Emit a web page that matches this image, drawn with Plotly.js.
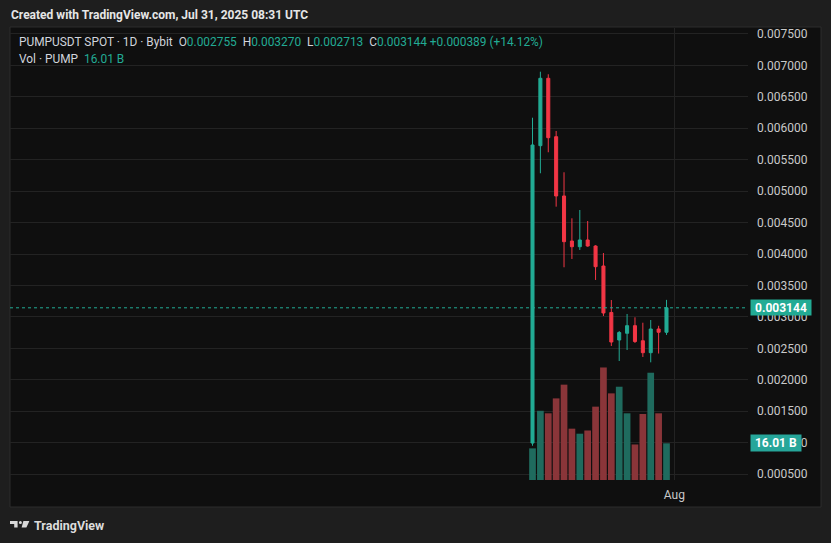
<!DOCTYPE html>
<html>
<head>
<meta charset="utf-8">
<script src="https://cdn.plot.ly/plotly-3.0.1.min.js"></script>
<style>
html,body{margin:0;padding:0;background:#1e1e1e;}
#chart{width:831px;height:543px;}
</style>
</head>
<body>
<div id="chart"></div>
<script>
// ---- data ----
const dates = ['2025-07-14','2025-07-15','2025-07-16','2025-07-17','2025-07-18','2025-07-19',
  '2025-07-20','2025-07-21','2025-07-22','2025-07-23','2025-07-24','2025-07-25',
  '2025-07-26','2025-07-27','2025-07-28','2025-07-29','2025-07-30','2025-07-31'];
const openP  = [0.000993,0.005723,0.006795,0.005866,0.004923,0.004207,0.004116,0.004223,0.004127,0.003809,0.003070,0.002632,0.002739,0.002860,0.002620,0.002430,0.002807,0.002755];
const highP  = [0.006168,0.006900,0.006859,0.005957,0.005300,0.004568,0.004700,0.004525,0.004140,0.004016,0.003268,0.002775,0.003046,0.002993,0.002907,0.002950,0.002858,0.003270];
const lowP   = [0.000950,0.005284,0.005618,0.004753,0.003789,0.003921,0.004064,0.004116,0.003587,0.003014,0.002537,0.002298,0.002473,0.002584,0.002362,0.002277,0.002417,0.002713];
const closeP = [0.005734,0.006795,0.005850,0.004923,0.004196,0.004116,0.004223,0.004127,0.003798,0.003062,0.002600,0.002751,0.002860,0.002608,0.002430,0.002807,0.002755,0.003144];
const volumeB = [13.8,30.2,29.1,35.6,41.6,22.4,20.2,21.6,32.0,49.1,37.8,40.7,29.1,15.5,28.8,46.8,29.1,16.01];
const priceTicks = [0.0005,0.001,0.0015,0.002,0.0025,0.003,0.0035,0.004,0.0045,0.005,0.0055,0.006,0.0065,0.007,0.0075];
const timeTickVals = ['2025-08-01'];
const timeTickText = ['Aug'];

// ---- styling ----
const UP = '#22ab94', DOWN = '#f23645';
const UPVOL = '#1f6b5e', DOWNVOL = '#8a3539';
const FONT = 'Roboto, "Noto Sans", sans-serif';
const W = 831, H = 543, ML = 10, MR = 83, MT = 28, MB = 63;
const PW = W - ML - MR, PH = H - MT - MB;
const fx = px => (px - ML) / PW;
const fy = py => (H - MB - py) / PH;

const volColors = closeP.map((c, i) => c >= openP[i] ? UPVOL : DOWNVOL);
const lastClose = closeP[closeP.length - 1];
const lastOpen = openP[openP.length - 1];
const prevClose = closeP[closeP.length - 2];
const lastVol = volumeB[volumeB.length - 1];
const chg = lastClose - prevClose;
const chgPct = chg / prevClose * 100;

const traces = [
  {
    type: 'bar', x: dates, y: volumeB, xaxis: 'x', yaxis: 'y',
    marker: {color: volColors, line: {width: 0}}, hoverinfo: 'skip'
  },
  {
    type: 'candlestick', x: dates, open: openP, high: highP, low: lowP, close: closeP,
    xaxis: 'x', yaxis: 'y2', hoverinfo: 'skip',
    increasing: {line: {color: UP, width: 1}, fillcolor: UP},
    decreasing: {line: {color: DOWN, width: 1}, fillcolor: DOWN},
    whiskerwidth: 0
  }
];

const G = '#c9c9c9';
const hdr = 'PUMPUSDT SPOT · 1D · Bybit  ' +
  'O<span style="color:' + UP + '">' + lastOpen.toFixed(6) + '</span>  ' +
  'H<span style="color:' + UP + '">' + highP[highP.length-1].toFixed(6) + '</span>  ' +
  'L<span style="color:' + UP + '">' + lowP[lowP.length-1].toFixed(6) + '</span>  ' +
  'C<span style="color:' + UP + '">' + lastClose.toFixed(6) + ' +' + chg.toFixed(6) + ' (+' + chgPct.toFixed(2) + '%)</span>';
const hdr2 = 'Vol · PUMP  <span style="color:' + UP + '">' + lastVol.toFixed(2) + ' B</span>';

function logoPath(pts){
  return 'M' + pts.map(p => fx(p[0]) + ',' + fy(p[1])).join(' L') + ' Z';
}

const layout = {
  width: W, height: H,
  margin: {l: ML, r: MR, t: MT, b: MB, pad: 0},
  paper_bgcolor: '#1e1e1e',
  plot_bgcolor: 'rgba(0,0,0,0)',
  showlegend: false,
  dragmode: false,
  boxgap: 0.45,
  bargap: 0.15,
  font: {family: FONT, color: G, size: 12},
  xaxis: {
    type: 'date', range: ['2025-05-08 17:00', '2025-08-10 08:10'],
    rangeslider: {visible: false},
    tickmode: 'array', tickvals: timeTickVals, ticktext: timeTickText,
    showgrid: true, gridcolor: '#232323', gridwidth: 1,
    ticks: '', showline: false, zeroline: false,
    tickfont: {family: FONT, size: 12, color: G},
    ticklabelstandoff: 6, fixedrange: true
  },
  yaxis: {
    range: [0, 197.2], visible: false, showgrid: false, zeroline: false, fixedrange: true
  },
  yaxis2: {
    overlaying: 'y', side: 'right', anchor: 'x',
    range: [0.000405, 0.007595],
    tickmode: 'array', tickvals: priceTicks,
    ticktext: priceTicks.map(v => v.toFixed(6)),
    showgrid: true, gridcolor: '#232323', gridwidth: 1,
    ticks: '', showline: false, zeroline: false,
    tickfont: {family: FONT, size: 12, color: G},
    ticklabelstandoff: 8, fixedrange: true
  },
  shapes: [
    // chart panel background
    {type: 'rect', xref: 'paper', yref: 'paper', x0: fx(10), x1: fx(821), y0: fy(507), y1: fy(27),
     fillcolor: '#0f0f0f', line: {color: '#2c2c2c', width: 1}, layer: 'below'},
    // last price dotted line
    {type: 'line', xref: 'paper', yref: 'y2', x0: 0, x1: 1, y0: lastClose, y1: lastClose,
     line: {color: UP, width: 1, dash: 'dot'}, layer: 'above'},
    // TradingView logo
    {type: 'path', xref: 'paper', yref: 'paper', path: logoPath([[10,521],[17.6,521],[17.6,527.6],[14.2,527.6],[14.2,524],[10,524]]),
     fillcolor: '#d8d8d8', line: {width: 0}},
    {type: 'circle', xref: 'paper', yref: 'paper', x0: fx(18.9), x1: fx(21.9), y0: fy(524), y1: fy(521),
     fillcolor: '#d8d8d8', line: {width: 0}},
    {type: 'path', xref: 'paper', yref: 'paper', path: logoPath([[23.4,521],[29.4,521],[26.4,527.6],[21.6,527.6]]),
     fillcolor: '#d8d8d8', line: {width: 0}}
  ],
  annotations: [
    {xref: 'paper', yref: 'paper', x: fx(9), y: fy(15), xanchor: 'left', yanchor: 'middle',
     text: '<b>Created with TradingView.com, Jul 31, 2025 08:31 UTC</b>', showarrow: false,
     font: {family: FONT, size: 12, color: '#e6e6e6'}},
    {xref: 'paper', yref: 'paper', x: fx(17), y: fy(42), xanchor: 'left', yanchor: 'middle',
     text: hdr, showarrow: false, font: {family: FONT, size: 11.9, color: '#d1d4dc'}},
    {xref: 'paper', yref: 'paper', x: fx(17), y: fy(59), xanchor: 'left', yanchor: 'middle',
     text: hdr2, showarrow: false, font: {family: FONT, size: 11.9, color: '#d1d4dc'}},
    {xref: 'paper', yref: 'y2', x: 1, xshift: 2, y: lastClose, xanchor: 'left', yanchor: 'middle',
     text: '<b>' + lastClose.toFixed(6) + '</b>', showarrow: false, bgcolor: UP,
     width: 60, height: 15, borderpad: 0, font: {family: FONT, size: 12, color: '#ffffff'}},
    {xref: 'paper', yref: 'y', x: 1, xshift: 2, y: lastVol, xanchor: 'left', yanchor: 'middle',
     text: '<b>' + lastVol.toFixed(2) + ' B</b>', showarrow: false, bgcolor: '#26a69a',
     width: 50, height: 16, borderpad: 0, font: {family: FONT, size: 12, color: '#ffffff'}},
    {xref: 'paper', yref: 'paper', x: fx(32), y: fy(525), xanchor: 'left', yanchor: 'middle',
     text: '<b>TradingView</b>', showarrow: false, font: {family: FONT, size: 12.5, color: '#dcdcdc'}}
  ]
};

Plotly.newPlot('chart', traces, layout, {staticPlot: true, displayModeBar: false});
</script>
</body>
</html>
